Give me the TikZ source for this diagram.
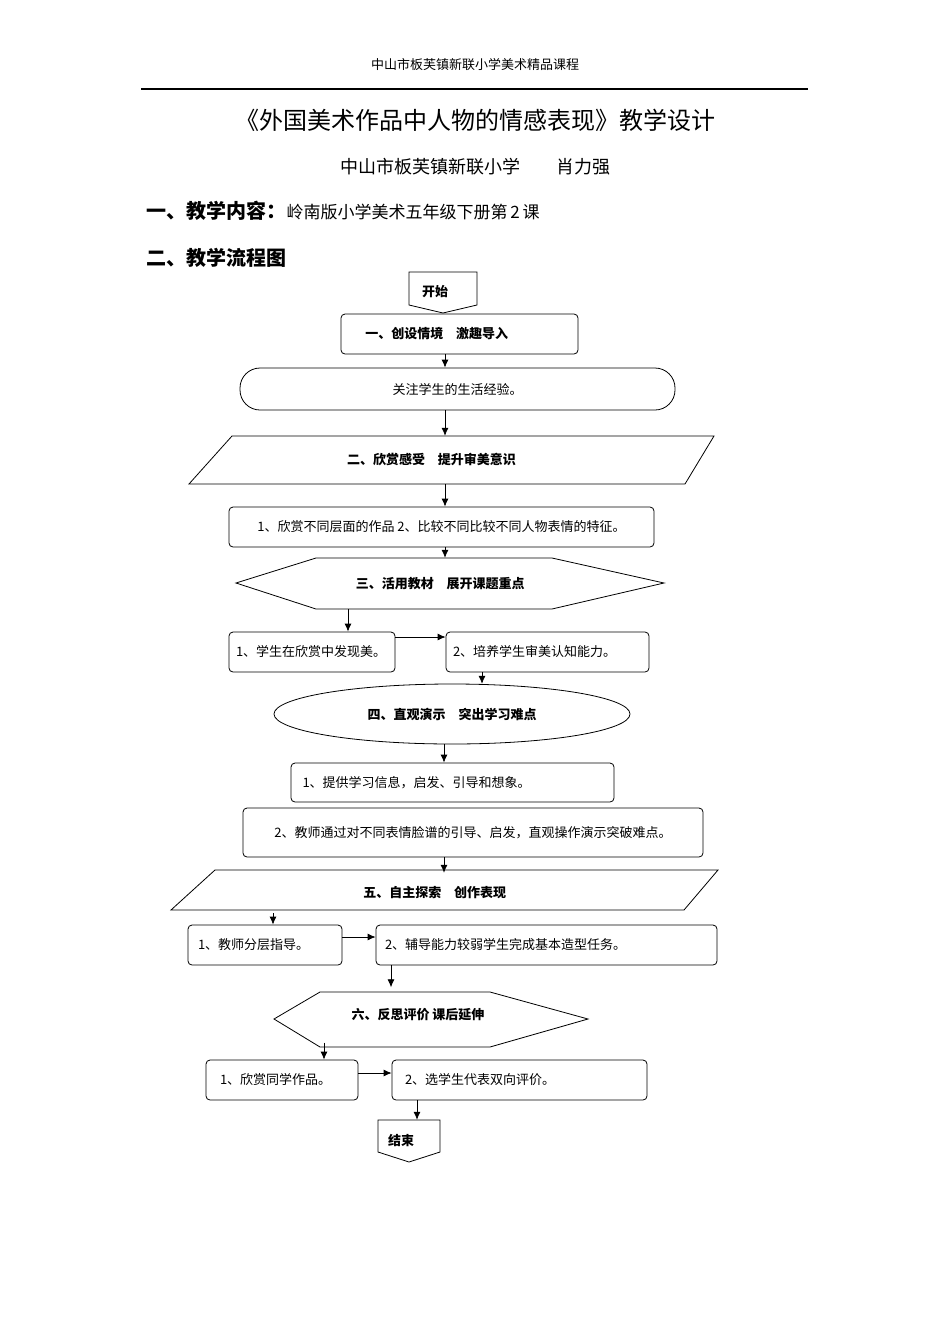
\documentclass[tikz,border=0pt]{standalone}
\usepackage{fontspec}
\setmainfont{Noto Sans CJK SC}
\usetikzlibrary{arrows.meta}
\newcommand{\lft}[2]{\makebox[#1pt][l]{#2}}
\begin{document}
\begin{tikzpicture}[x=1pt,y=-1pt,
  lbl/.style={font=\fontsize{13}{15}\selectfont},
  blbl/.style={font=\fontsize{13}{15}\selectfont\bfseries},
  rbox/.style={draw,thick,rounded corners=4pt,inner xsep=0pt},
  ar/.style={-{Latex[length=8pt,width=7pt]},thick},
  shp/.style={draw,thick}]
\useasboundingbox (0,0) rectangle (950,1344);
\node at (475,65) {\fontsize{13}{15}\selectfont 中山市板芙镇新联小学美术精品课程};
\draw[line width=2.5pt] (141,89) -- (808,89);
\node at (475,120) {\fontsize{24}{27}\selectfont 《外国美术作品中人物的情感表现》教学设计};
\node at (475,167) {\fontsize{18}{21}\selectfont 中山市板芙镇新联小学\hspace{2em}肖力强};
\node[anchor=west] at (143,211) {\fontsize{20}{23}\selectfont\bfseries 一、教学内容：\mdseries\fontsize{17}{20}\selectfont 岭南版小学美术五年级下册第\,2\,课};
\node[anchor=west] at (143,258) {\fontsize{20}{23}\selectfont\bfseries 二、教学流程图};
% start
\draw[shp] (409,272) -- (477,272) -- (477,305) -- (443,313) -- (409,305) -- cycle;
\node[blbl,minimum width=68,minimum height=41] (st) at (443,292) {\hspace*{-1.2em}开始};
\node[rbox,blbl,minimum width=237,minimum height=40] (b1) at (459.5,334) {\hspace*{-3.5em}一、创设情境\quad 激趣导入};
\node[draw,thick,rounded corners=20pt,lbl,minimum width=435,minimum height=42] (b2) at (457.5,389) {\raisebox{-5pt}{关注学生的生活经验。}};
\draw[shp] (232,436) -- (714,436) -- (685,484) -- (189,484) -- cycle;
\node[blbl,minimum width=450,minimum height=48] (p1) at (451,460) {\hspace*{-3em}二、欣赏感受\quad 提升审美意识};
\node[rbox,lbl,minimum width=425,minimum height=40] (b3) at (441.5,527) {1、欣赏不同层面的作品\ 2、比较不同比较不同人物表情的特征。};
\draw[shp] (236,583) -- (316,558) -- (552,558) -- (664,583) -- (552,609) -- (316,609) -- cycle;
\node[blbl,minimum width=420,minimum height=51] (h1) at (450,583.5) {\hspace*{-1.5em}三、活用教材\quad 展开课题重点};
\node[rbox,lbl,minimum width=166,minimum height=40] (b4) at (312,652) {\lft{152}{1、学生在欣赏中发现美。}};
\node[rbox,lbl,minimum width=203,minimum height=40] (b5) at (547.5,652) {\lft{189}{2、培养学生审美认知能力。}};
\draw[shp] (452,714) ellipse (178 and 30);
\node[blbl,minimum width=300,minimum height=60] (e1) at (452,714) {四、直观演示\quad 突出学习难点};
\node[rbox,lbl,minimum width=323,minimum height=39] (b6) at (452.5,782.5) {\lft{300}{1、提供学习信息，启发、引导和想象。}};
\node[rbox,lbl,minimum width=460,minimum height=49] (b7) at (473,832.5) {\raisebox{-3pt}{2、教师通过对不同表情脸谱的引导、启发，直观操作演示突破难点。}};
\draw[shp] (215,870) -- (718,870) -- (684,910) -- (171,910) -- cycle;
\node[blbl,minimum width=470,minimum height=40] (p2) at (444.5,893) {\hspace*{-1.5em}五、自主探索\quad 创作表现};
\node[rbox,lbl,minimum width=154,minimum height=40] (b8) at (265,945) {\lft{134}{1、教师分层指导。}};
\node[rbox,lbl,minimum width=341,minimum height=40] (b9) at (546.5,945) {\lft{323}{2、辅导能力较弱学生完成基本造型任务。}};
\draw[shp] (274,1019) -- (320,992) -- (490,992) -- (588,1019) -- (490,1047) -- (320,1047) -- cycle;
\node[blbl,minimum width=300,minimum height=55] (h2) at (431,1015) {\hspace*{-2em}六、反思评价\ 课后延伸};
\node[rbox,lbl,minimum width=152,minimum height=40] (b10) at (282,1080) {\lft{124}{1、欣赏同学作品。}};
\node[rbox,lbl,minimum width=255,minimum height=40] (b11) at (519.5,1080) {\lft{229}{2、选学生代表双向评价。}};
\draw[shp] (378,1120) -- (440,1120) -- (440,1152) -- (409,1162) -- (378,1152) -- cycle;
\node[blbl,minimum width=62,minimum height=42] (en) at (409,1141) {\hspace*{-1.2em}结束};
% arrows
\draw[ar] (b1.south -| 445,0) -- (b2.north -| 445,0);
\draw[ar] (b2.south -| 445,0) -- (p1.north -| 445,0);
\draw[ar] (p1.south -| 445,0) -- (b3.north -| 445,0);
\draw[ar] (b3.south -| 445,0) -- (h1.north -| 445,0);
\draw[ar] (h1.south -| 348,0) -- (b4.north -| 348,0);
\draw[ar] (b4.east |- 0,637) -- (b5.west |- 0,637);
\draw[ar] (b5.south -| 482,0) -- (e1.north -| 482,0);
\draw[ar] (e1.south -| 444,0) -- (b6.north -| 444,0);
\draw[ar] (b7.south -| 444,0) -- (p2.north -| 444,0);
\draw[ar] (p2.south -| 273,0) -- (b8.north -| 273,0);
\draw[ar] (b8.east |- 0,937) -- (b9.west |- 0,937);
\draw[ar] (b9.south -| 391,0) -- (h2.north -| 391,0);
\draw[ar] (h2.south -| 324,0) -- (b10.north -| 324,0);
\draw[ar] (b10.east |- 0,1073) -- (b11.west |- 0,1073);
\draw[ar] (b11.south -| 417,0) -- (en.north -| 417,0);
\end{tikzpicture}
\end{document}
